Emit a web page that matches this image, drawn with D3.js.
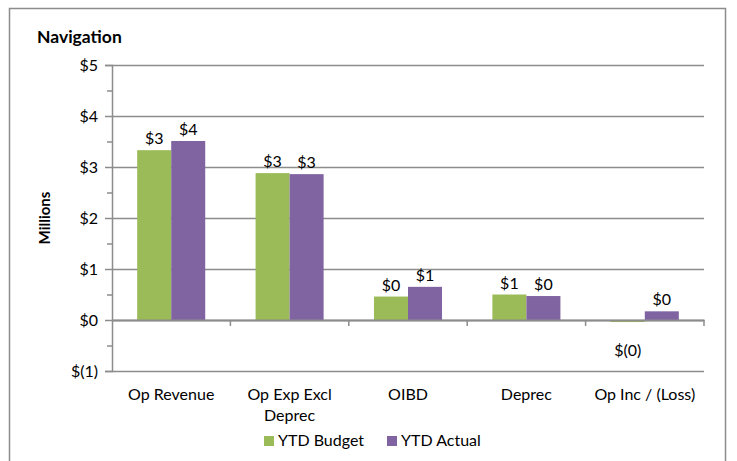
<!DOCTYPE html>
<html>
<head>
<meta charset="utf-8">
<script src="https://cdn.jsdelivr.net/npm/d3@7"></script>
<style>
  body { margin: 0; background: #fff; }
  svg text { font-family: Lato, "Open Sans", sans-serif; fill: #000; }
</style>
</head>
<body>
<div id="chart"></div>
<script>
// Navigation - YTD budget vs actual (millions)

var categories = ["Op Revenue", "Op Exp Excl Deprec", "OIBD", "Deprec", "Op Inc / (Loss)"];
var categoryLines = [["Op Revenue"], ["Op Exp Excl", "Deprec"], ["OIBD"], ["Deprec"], ["Op Inc / (Loss)"]];
var seriesNames = ["YTD Budget", "YTD Actual"];
var budget = [3.33, 2.88, 0.46, 0.50, -0.04];
var actual = [3.51, 2.86, 0.65, 0.47, 0.17];
var yTicks = [-1, 0, 1, 2, 3, 4, 5];
var colors = ["#9bbb59", "#8064a2"];

var width = 737, height = 461;
var plot = {left: 112, right: 704, top: 65, bottom: 371};

var svg = d3.select("#chart").append("svg")
    .attr("width", width)
    .attr("height", height);

// outer frame
svg.append("rect")
    .attr("x", 9.5).attr("y", 8.5)
    .attr("width", 716).attr("height", 470)
    .attr("fill", "none")
    .attr("stroke", "#8c8c8c")
    .attr("stroke-width", 1.5);

var x0 = d3.scaleBand()
    .domain(categories)
    .range([plot.left, plot.right])
    .paddingInner(0)
    .paddingOuter(0);

var x1 = d3.scaleBand()
    .domain(seriesNames)
    .range([0, x0.bandwidth()])
    .paddingInner(0)
    .paddingOuter(0.74);

var y = d3.scaleLinear()
    .domain([-1, 5])
    .range([plot.bottom, plot.top]);

function money(v) {
    var r = Math.round(Math.abs(v));
    return v < 0 ? "$(" + r + ")" : "$" + r;
}

//grid lines
svg.append("g")
    .attr("transform", "translate(" + plot.left + ",0)")
    .call(d3.axisLeft(y).tickValues(yTicks)
        .tickSize(-(plot.right - plot.left))
        .tickFormat(""))
    .call(g => g.select(".domain").remove())
    .selectAll("line")
    .attr("stroke", "#8c8c8c")
    .attr("stroke-width", 1.5);

//minor ticks
svg.append("g")
    .attr("transform", "translate(" + plot.left + ",0)")
    .call(d3.axisLeft(y).tickValues(d3.range(-0.5, 5, 1))
        .tickSize(5)
        .tickFormat(""))
    .call(g => g.select(".domain").remove())
    .selectAll("line")
    .attr("stroke", "#8c8c8c")
    .attr("stroke-width", 1.5);

//y axis
var yAxis = svg.append("g")
    .attr("transform", "translate(" + plot.left + ",0)")
    .call(d3.axisLeft(y).tickValues(yTicks).tickSize(7).tickPadding(7).tickFormat(money));
yAxis.select(".domain").attr("stroke", "#8c8c8c").attr("stroke-width", 1.5);
yAxis.selectAll(".tick line").attr("stroke", "#8c8c8c").attr("stroke-width", 1.5);
yAxis.selectAll(".tick text")
    .style("font-size", "16px");

//bars
var groups = svg.append("g")
    .selectAll("g")
    .data(categories)
    .enter()
    .append("g")
    .attr("transform", d => "translate(" + x0(d) + ",0)");

groups.selectAll("rect")
    .data((d, i) => [budget[i], actual[i]].map((v, j) => ({name: seriesNames[j], value: v})))
    .enter()
    .append("rect")
    .attr("x", d => x1(d.name))
    .attr("width", x1.bandwidth())
    .attr("y", d => y(Math.max(0, d.value)))
    .attr("height", d => Math.max(1.5, Math.abs(y(d.value) - y(0))))
    .attr("fill", (d, j) => colors[j]);

//value labels
groups.selectAll("text")
    .data((d, i) => [budget[i], actual[i]].map((v, j) => ({name: seriesNames[j], value: v})))
    .enter()
    .append("text")
    .attr("x", d => x1(d.name) + x1.bandwidth() / 2)
    .attr("y", d => d.value < 0 ? y(d.value) + 34 : y(d.value) - 6)
    .attr("text-anchor", "middle")
    .style("font-size", "16px")
    .text(d => money(d.value));

//x axis at zero
var xAxis = svg.append("g")
    .attr("transform", "translate(0," + y(0) + ")")
    .call(d3.axisBottom(x0).tickSize(0).tickFormat(""));
xAxis.select(".domain").attr("stroke", "#8c8c8c").attr("stroke-width", 2);

svg.append("g")
    .selectAll("line")
    .data(categories.slice(1).concat(["end"]))
    .enter()
    .append("line")
    .attr("x1", (d, i) => plot.left + (i + 1) * x0.step())
    .attr("x2", (d, i) => plot.left + (i + 1) * x0.step())
    .attr("y1", y(0))
    .attr("y2", y(0) + 6)
    .attr("stroke", "#8c8c8c")
    .attr("stroke-width", 1.5);

//category labels
svg.append("g")
    .selectAll("text")
    .data(categories)
    .enter()
    .append("text")
    .attr("x", d => x0(d) + x0.bandwidth() / 2)
    .attr("y", 400)
    .attr("text-anchor", "middle")
    .style("font-size", "16px")
    .each(function(d, i) {
        d3.select(this).selectAll("tspan")
            .data(categoryLines[i])
            .enter()
            .append("tspan")
            .attr("x", x0(d) + x0.bandwidth() / 2)
            .attr("dy", (t, k) => k === 0 ? 0 : 21)
            .text(t => t);
    });

//title
svg.append("text")
    .attr("x", 37)
    .attr("y", 43)
    .style("font-size", "17.5px")
    .style("font-weight", "bold")
    .text("Navigation");

svg.append("text")
    .attr("transform", "rotate(-90)")
    .attr("x", -218)
    .attr("y", 50)
    .attr("text-anchor", "middle")
    .style("font-size", "15px")
    .style("font-weight", "bold")
    .text("Millions");

//legend
var legendX = [264, 387];
var legend = svg.append("g")
    .selectAll("g")
    .data(seriesNames)
    .enter()
    .append("g")
    .attr("transform", (d, i) => "translate(" + legendX[i] + ",436)");
legend.append("rect")
    .attr("width", 10)
    .attr("height", 10)
    .attr("fill", (d, i) => colors[i]);
legend.append("text")
    .attr("x", 14)
    .attr("y", 10)
    .style("font-size", "16px")
    .text(d => d);
</script>
</body>
</html>
